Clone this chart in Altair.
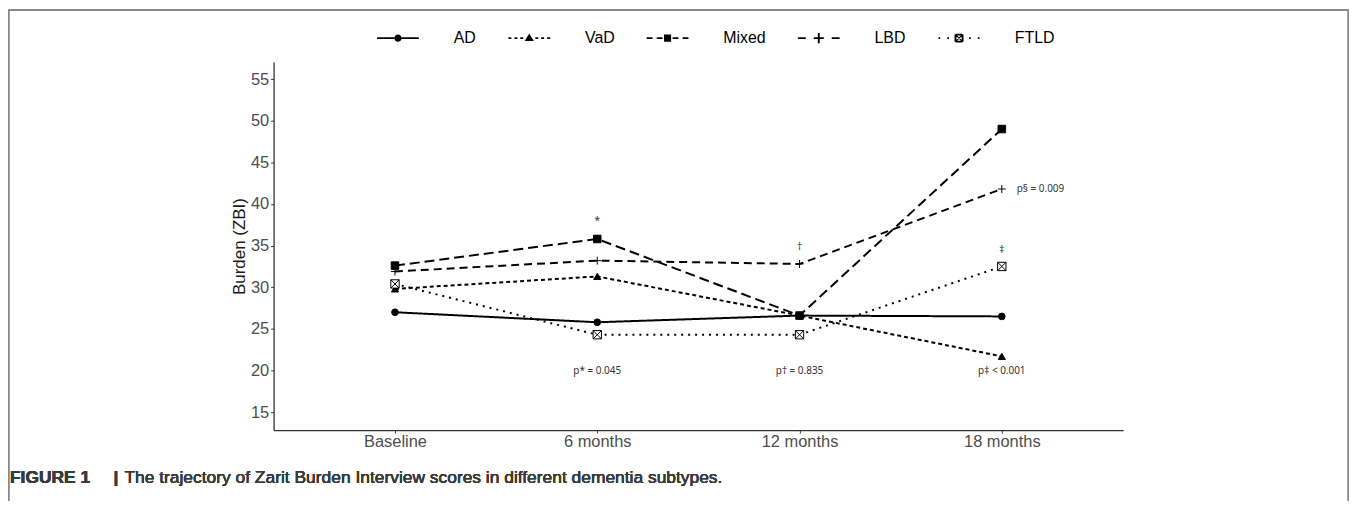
import math
import altair as alt
import pandas as pd

# ---- data ----
timepoints = ["Baseline", "6 months", "12 months", "18 months"]
series = ["AD", "VaD", "Mixed", "LBD", "FTLD"]
ad = [27.0, 25.8, 26.6, 26.5]
vad = [29.8, 31.3, 26.6, 21.7]
mixed = [32.6, 35.8, 26.6, 49.0]
lbd = [31.9, 33.2, 32.8, 41.8]
ftld = [30.4, 24.3, 24.3, 32.5]

mark_times = ["6 months", "12 months", "18 months"]
mark_texts = ["*", "\u2020", "\u2021"]
mark_y = [37.9, 34.85, 34.5]

p_times = ["6 months", "12 months", "18 months"]
p_texts = ["p* = 0.045", "p\u2020 = 0.835", "p\u2021 < 0.001"]
p_y = [19.9, 19.9, 19.95]

p_lbd_time = ["18 months"]
p_lbd_text = ["p\u00a7 = 0.009"]
p_lbd_y = [41.8]

y_ticks = [15, 20, 25, 30, 35, 40, 45, 50, 55]

caption_bold = "FIGURE 1"
caption_bar = "|"
caption_text = "The trajectory of Zarit Burden Interview scores in different dementia subtypes."

# ---- tables ----
vals = {"AD": ad, "VaD": vad, "Mixed": mixed, "LBD": lbd, "FTLD": ftld}
rows = []
for s in series:
    for t, v in zip(timepoints, vals[s]):
        rows.append({"time": t, "series": s, "score": v})
df = pd.DataFrame(rows)

sym_df = pd.DataFrame({"time": mark_times, "score": mark_y, "label": mark_texts})
p_df = pd.DataFrame({"time": p_times, "score": p_y, "label": p_texts})
pl_df = pd.DataFrame({"time": p_lbd_time, "score": p_lbd_y, "label": p_lbd_text})
leg_df = pd.DataFrame({"series": series})

FONT = "Liberation Sans"

x_enc = alt.X(
    "time:N",
    sort=timepoints,
    scale=alt.Scale(type="point", domain=timepoints, padding=0.6),
    axis=alt.Axis(title=None, labelPadding=0, tickSize=3, labelFontSize=16.5, labelAngle=0),
)
y_enc = alt.Y(
    "score:Q",
    scale=alt.Scale(domain=[12.85, 57.05], nice=False, zero=False),
    axis=alt.Axis(values=y_ticks, title="Burden (ZBI)", tickSize=3, labelPadding=2,
                  titlePadding=2, labelFontSize=16.5, titleFontSize=17),
)

dash_scale = alt.Scale(domain=series, range=[[1, 0], [4, 3], [10, 5], [8, 5], [2, 5]])
shape_scale = alt.Scale(
    domain=series,
    range=[
        "circle",
        "triangle-up",
        "square",
        "M-1,0L1,0M0,-1L0,1",
        "M-1,-1L1,-1L1,1L-1,1ZM-1,-1L1,1M-1,1L1,-1",
    ],
)
fill_scale = alt.Scale(domain=series, range=["black", "black", "black", "transparent", "white"])
size_scale = alt.Scale(domain=series, range=[45, 70, 60, 110, 55])

lines = alt.Chart(df).mark_line(color="black", strokeWidth=2).encode(
    x=x_enc,
    y=y_enc,
    strokeDash=alt.StrokeDash("series:N", scale=dash_scale, legend=None),
    detail="series:N",
)

points = alt.Chart(df).mark_point(stroke="black", strokeWidth=1, opacity=1).encode(
    x=x_enc,
    y=y_enc,
    shape=alt.Shape("series:N", scale=shape_scale, legend=None),
    fill=alt.Fill("series:N", scale=fill_scale, legend=None),
    size=alt.Size("series:N", scale=size_scale, legend=None),
)

txt_kw = dict(font="Noto Sans", fontSize=10, color="#333", baseline="middle")
marks_txt = alt.Chart(sym_df).mark_text(**txt_kw).encode(x=x_enc, y=y_enc, text="label:N")
p_txt = alt.Chart(p_df).mark_text(**txt_kw).encode(x=x_enc, y=y_enc, text="label:N")
pl_txt = alt.Chart(pl_df).mark_text(align="left", dx=15, **txt_kw).encode(
    x=x_enc, y=y_enc, text="label:N"
)


# ---- legend key glyphs (filled outlines only; unit box [-1,1] = 42 px) ----
W = 0.045  # half line thickness in unit coords


def seg(x1, y1, x2, y2, w=W):
    dx, dy = x2 - x1, y2 - y1
    L = math.hypot(dx, dy)
    nx, ny = -dy / L * w, dx / L * w
    pts = [(x1 + nx, y1 + ny), (x2 + nx, y2 + ny), (x2 - nx, y2 - ny), (x1 - nx, y1 - ny)]
    return "M" + "L".join(f"{a:.3f},{b:.3f}" for a, b in pts) + "Z"


def hsegs(pairs):
    return "".join(seg(a, 0, b, 0) for a, b in pairs)


circ = "M0.17,0A0.17,0.17,0,1,0,-0.17,0A0.17,0.17,0,1,0,0.17,0Z"
tri = "M-0.22,0.14L0,-0.22L0.22,0.14Z"
sq = "M-0.17,-0.17L-0.17,0.17L0.17,0.17L0.17,-0.17Z"
b = 0.17
box_x = (seg(-b, -b, b, -b) + seg(b, -b, b, b) + seg(b, b, -b, b) + seg(-b, b, -b, -b)
         + seg(-b, -b, b, b, 0.03) + seg(-b, b, b, -b, 0.03))

leg_shapes = [
    hsegs([(-1, -0.17), (0.17, 1)]) + circ,
    hsegs([(-1, -0.86), (-0.71, -0.57), (-0.43, -0.29), (0.29, 0.43), (0.57, 0.71), (0.86, 1)]) + tri,
    hsegs([(-1, -0.72), (-0.52, -0.24), (0.24, 0.52), (0.72, 1)]) + sq,
    hsegs([(-1, -0.62), (-0.24, 0.24), (0.62, 1)]) + seg(0, -0.24, 0, 0.24),
    hsegs([(-0.98, -0.9), (-0.56, -0.48), (0.48, 0.56), (0.9, 0.98)]) + box_x,
]
legend = alt.Legend(
    title=None, orient="none", legendX=104, legendY=-45, direction="horizontal", columns=5,
    symbolSize=1764, symbolStrokeWidth=0, symbolFillColor="black",
    symbolOpacity=1, labelFontSize=16, labelFont=FONT, labelColor="black", labelOffset=35,
    columnPadding=32, padding=0,
)
legend_layer = alt.Chart(leg_df).mark_point(
    filled=True, color="black", fill="black", opacity=1
).encode(
    shape=alt.Shape("series:N", scale=alt.Scale(domain=series, range=leg_shapes), legend=legend),
).transform_filter("false")

# ---- figure frame and caption ----
frame_kw = dict(color="#888", strokeWidth=1.5)
frame_left = alt.Chart(leg_df).mark_rule(**frame_kw).encode(
    x=alt.value(-266.5), y=alt.value(-52), y2=alt.value(441)
)
frame_right = alt.Chart(leg_df).mark_rule(**frame_kw).encode(
    x=alt.value(1080.5), y=alt.value(-52), y2=alt.value(441)
)
frame_top = alt.Chart(leg_df).mark_rule(**frame_kw).encode(
    x=alt.value(-266.5), x2=alt.value(1080.5), y=alt.value(-52)
)
cap_kw = dict(font=FONT, fontSize=17.5, align="left", baseline="middle", color="#3a3a3a")
cap1 = alt.Chart(leg_df).mark_text(fontWeight="bold", text=caption_bold, **cap_kw).encode(
    x=alt.value(-265), y=alt.value(418)
)
cap2 = alt.Chart(leg_df).mark_text(fontWeight="bold", text=caption_bar, **cap_kw).encode(
    x=alt.value(-161), y=alt.value(418)
)
cap3 = alt.Chart(leg_df).mark_text(text=caption_text, **cap_kw).encode(
    x=alt.value(-150), y=alt.value(418)
)

chart = alt.layer(
    frame_left, frame_right, frame_top, cap1, cap2, cap3,
    lines, points, marks_txt, p_txt, pl_txt, legend_layer,
).resolve_scale(
    shape="independent"
).properties(
    width=854, height=370, background="white",
    autosize=alt.AutoSizeParams(type="none"),
    padding={"left": 267, "top": 53, "right": 227, "bottom": 71},
).configure_view(stroke=None).configure_axis(
    grid=False, domainColor="#333", domainWidth=1.3, tickColor="#333", tickWidth=1,
    labelColor="#4d4d4d", labelFont=FONT, titleFont=FONT, titleFontWeight="normal",
    titleColor="#1a1a1a",
)

chart.save("out.html", embed_options={"renderer": "svg", "actions": False})
